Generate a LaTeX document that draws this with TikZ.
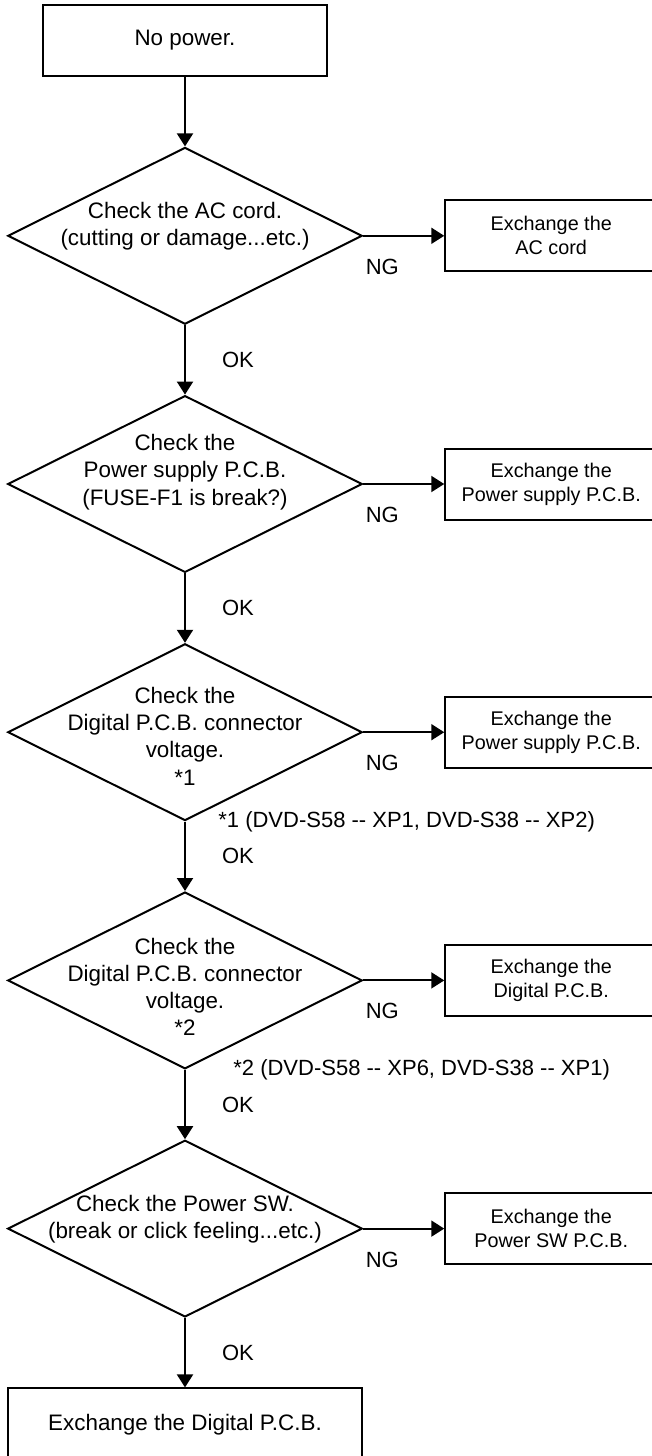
\documentclass[tikz,border=0pt]{standalone}
\usepackage{fontspec}
\setmainfont{Liberation Sans}[Ligatures=TeXOff]
\usetikzlibrary{positioning,arrows.meta}
\usetikzlibrary{shapes.geometric}
\tikzset{startbox/.style={draw, line width=1pt, rectangle, minimum width=142pt, minimum height=35.5pt, font=\fontsize{11.2}{13.65}\selectfont}}
\tikzset{check/.style={draw, line width=1pt, diamond, inner sep=0pt, minimum width=177.25pt, minimum height=88.4pt}}
\tikzset{checktext/.style={align=center, inner sep=0pt, font=\fontsize{11.2}{13.65}\selectfont}}
\tikzset{fixbox/.style={draw, line width=1pt, rectangle, align=center, minimum width=106pt, minimum height=35.5pt, font=\fontsize{9.9}{12}\selectfont}}
\tikzset{endbox/.style={draw, line width=1pt, rectangle, minimum width=177.25pt, minimum height=36pt, font=\fontsize{11.2}{13.65}\selectfont}}
\tikzset{lbl/.style={font=\fontsize{11}{13}\selectfont, inner sep=0pt}}

\begin{document}
\begin{tikzpicture}[>={Triangle[width=8pt,length=6.5pt]}, node distance=34.7pt]
\useasboundingbox (0,0) rectangle (326pt,-728pt);
\node[startbox] (nopower) at (92.5pt,-20.25pt) {No power.};

\node[check, below=of nopower] (acchk) {};
\node[checktext, yshift=4.75pt] (acchktxt) at (acchk) {Check the AC cord.\\(cutting or damage...etc.)};
\node[fixbox, right=40.5pt of acchk] (accord) {Exchange the\\AC cord};

\node[check, below=of acchk] (fusechk) {};
\node[checktext, yshift=6pt] (fusechktxt) at (fusechk) {Check the\\Power supply P.C.B.\\(FUSE-F1 is break?)};
\node[fixbox, right=40.5pt of fusechk] (psfix) {Exchange the\\Power supply P.C.B.};

\node[check, below=of fusechk] (volt1chk) {};
\node[checktext, yshift=-2pt] (volt1chktxt) at (volt1chk) {Check the\\Digital P.C.B. connector\\voltage.\\*1};
\node[fixbox, right=40.5pt of volt1chk] (psfix2) {Exchange the\\Power supply P.C.B.};
\node[lbl, right=16.5pt of volt1chk.south] (note1) {*1 (DVD-S58 -- XP1, DVD-S38 -- XP2)};

\node[check, below=of volt1chk] (volt2chk) {};
\node[checktext, yshift=-3.25pt] (volt2chktxt) at (volt2chk) {Check the\\Digital P.C.B. connector\\voltage.\\*2};
\node[fixbox, right=40.5pt of volt2chk] (digfix) {Exchange the\\Digital P.C.B.};
\node[lbl, right=24pt of volt2chk.south] (note2) {*2 (DVD-S58 -- XP6, DVD-S38 -- XP1)};

\node[check, below=of volt2chk] (swchk) {};
\node[checktext, yshift=4.75pt] (swchktxt) at (swchk) {Check the Power SW.\\(break or click feeling...etc.)};
\node[fixbox, right=40.5pt of swchk] (swfix) {Exchange the\\Power SW P.C.B.};

\node[endbox, below=of swchk] (digital) {Exchange the Digital P.C.B.};

% down the OK branch
\draw[->, line width=1pt] (nopower) -- (acchk);
\draw[->, line width=1pt] (acchk) -- node[lbl, xshift=26.5pt] (ok1) {OK} (fusechk);
\draw[->, line width=1pt] (fusechk) -- node[lbl, xshift=26.5pt] (ok2) {OK} (volt1chk);
\draw[->, line width=1pt] (volt1chk) -- node[lbl, xshift=26.5pt] (ok3) {OK} (volt2chk);
\draw[->, line width=1pt] (volt2chk) -- node[lbl, xshift=26.5pt] (ok4) {OK} (swchk);
\draw[->, line width=1pt] (swchk) -- node[lbl, xshift=26.5pt] (ok5) {OK} (digital);

% NG to the right
\draw[->, line width=1pt] (acchk.east) -- node[lbl, pos=0.235, yshift=-15.5pt] (ng1) {NG} (accord.west);
\draw[->, line width=1pt] (fusechk.east) -- node[lbl, pos=0.235, yshift=-15.5pt] (ng2) {NG} (psfix.west);
\draw[->, line width=1pt] (volt1chk.east) -- node[lbl, pos=0.235, yshift=-15.5pt] (ng3) {NG} (psfix2.west);
\draw[->, line width=1pt] (volt2chk.east) -- node[lbl, pos=0.235, yshift=-15.5pt] (ng4) {NG} (digfix.west);
\draw[->, line width=1pt] (swchk.east) -- node[lbl, pos=0.235, yshift=-15.5pt] (ng5) {NG} (swfix.west);
\end{tikzpicture}
\end{document}
